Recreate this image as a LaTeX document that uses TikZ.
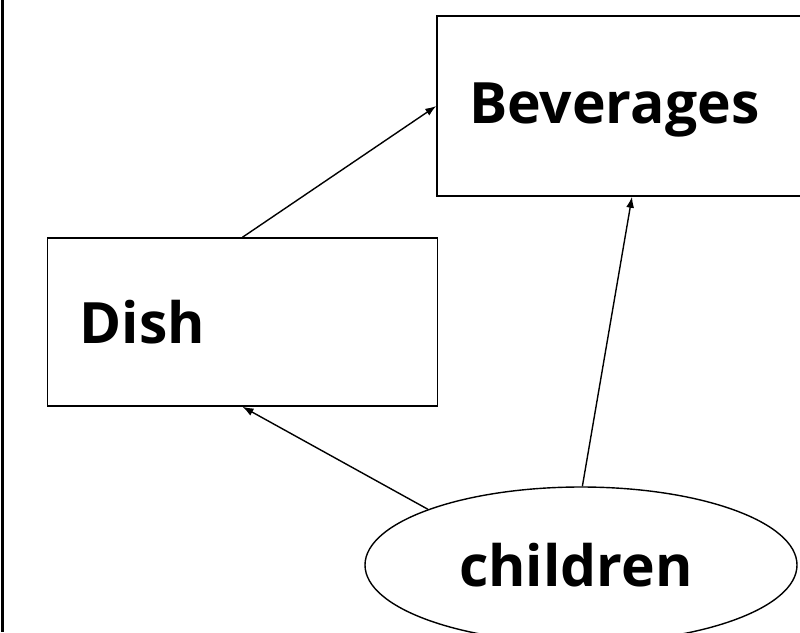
\documentclass[tikz,border=0pt]{standalone}
\usepackage{fontspec}
\setmainfont{Open Sans}
\usetikzlibrary{arrows.meta,shapes.geometric}
\begin{document}
\begin{tikzpicture}[x=1pt,y=-1pt,
  every node/.style={font=\fontsize{57}{68}\selectfont\bfseries},
  entity/.style={draw,line width=1.5pt,rectangle,inner xsep=32pt,
    text width=326pt,align=left},
  attrib/.style={draw,line width=1.4pt,ellipse,inner sep=0pt,
    minimum width=432pt,minimum height=156pt},
  link/.style={line width=1.4pt,-{Latex[length=11pt,width=8pt]}}]
  \useasboundingbox (0,0) rectangle (800,632);
  \clip (0,0) rectangle (800,632);
  % frame edge
  \draw[line width=2.2pt] (2.5,0) -- (2.5,632);
  % entities
  \node[entity,minimum height=180pt,text depth=5pt] (bev) at (632,106) {Beverages};
  \node[entity,minimum height=168pt] (dish) at (242.5,322) {Dish};
  % attribute
  \node[attrib] (kids) at (581,565) {children\kern10pt};
  % connectors
  \draw[link] (dish.north) -- (bev.west);
  \draw[link] (kids.160) -- (dish.south);
  \draw[link] (kids.89) -- (bev.south);
\end{tikzpicture}
\end{document}
